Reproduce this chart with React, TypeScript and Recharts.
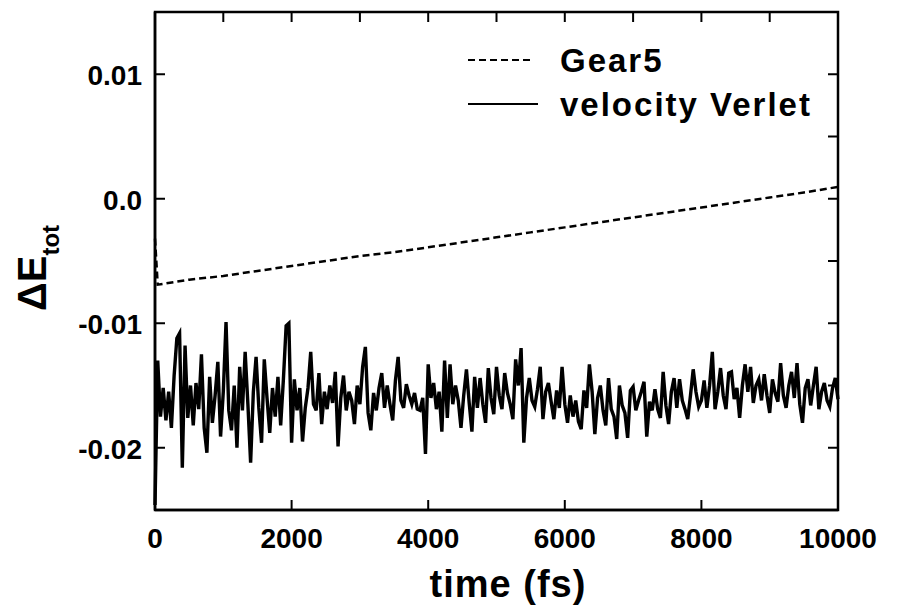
import { LineChart, Line, XAxis, YAxis, ReferenceArea } from 'recharts'

// ΔE_tot in units of 1e-3
const GEAR5_TIME = [0, 40, 500, 1000, 1500, 2000, 2500, 3000, 3500, 4000, 4500, 5000, 5500, 6000, 6500, 7000, 7500, 8000, 8500, 9000, 9500, 10000]
const GEAR5_DE = [-3.2, -6.9, -6.5, -6.2, -5.8, -5.4, -5.0, -4.6, -4.3, -3.9, -3.5, -3.1, -2.7, -2.3, -1.9, -1.5, -1.1, -0.7, -0.3, 0.1, 0.5, 0.95]

// velocity Verlet sampled every 40 fs
const VERLET_DT = 40
const VERLET_DE = [
  -24.6, -13.0, -17.5, -15.2, -17.8, -15.5, -18.4, -14.2, -11.2, -10.8, -21.6, -11.8, -17.6, -15.0, -18.2, -14.8, -16.9, -12.5, -18.4, -20.4, -14.3, -18.0, -15.8, -13.1, -19.1,
  -15.5, -9.9, -17.0, -18.6, -15.0, -20.0, -13.5, -17.0, -12.3, -16.5, -21.2, -15.5, -12.7, -16.8, -19.6, -12.9, -16.0, -18.8, -15.2, -17.5, -14.3, -18.2, -14.5, -10.2, -10.0,
  -19.6, -14.5, -17.0, -15.2, -19.5, -16.8, -15.2, -12.3, -16.5, -17.0, -14.0, -18.1, -15.5, -16.9, -15.0, -16.4, -13.9, -19.9, -16.0, -14.2, -17.0, -15.5, -16.2, -18.1, -15.0,
  -16.5, -13.5, -11.9, -17.2, -18.6, -15.6, -17.0, -15.2, -14.0, -16.8, -15.0, -16.5, -17.8, -14.6, -12.7, -16.2, -16.8, -14.9, -15.8, -16.5, -15.6, -16.9, -17.0, -16.0, -20.5,
  -13.3, -16.0, -14.8, -16.9, -15.5, -18.7, -13.0, -17.6, -13.3, -16.5, -15.0, -16.2, -18.4, -15.8, -13.7, -16.4, -18.7, -14.3, -16.8, -14.4, -16.5, -18.0, -13.6, -16.0, -17.3,
  -13.5, -15.8, -16.9, -14.0, -15.6, -16.5, -17.7, -12.9, -15.0, -12.0, -19.6, -16.0, -14.4, -16.2, -16.7, -15.3, -13.5, -17.7, -15.5, -14.8, -16.3, -17.7, -15.4, -16.8, -13.5,
  -16.5, -18.0, -15.8, -17.5, -16.2, -17.9, -18.5, -15.4, -16.8, -13.3, -15.5, -18.9, -16.0, -15.0, -17.0, -18.2, -14.4, -16.9, -17.5, -19.3, -15.0, -16.6, -17.2, -19.2, -15.4,
  -15.1, -17.0, -16.2, -15.5, -14.7, -19.1, -16.3, -17.0, -15.3, -16.9, -17.6, -13.9, -16.6, -18.1, -15.5, -14.4, -16.8, -14.5, -16.2, -16.9, -17.7, -15.8, -13.7, -15.5, -16.7,
  -16.2, -14.6, -16.8, -15.0, -12.3, -16.9, -15.5, -13.6, -15.8, -16.9, -14.0, -13.9, -16.1, -15.2, -17.6, -15.0, -13.3, -15.5, -13.5, -16.4, -15.0, -14.5, -16.2, -14.1, -15.8,
  -17.2, -14.5, -15.6, -16.3, -13.2, -15.8, -16.8, -15.0, -13.9, -16.0, -13.2, -16.5, -18.0, -15.2, -14.5, -16.6, -15.0, -13.5, -16.9, -15.5, -14.8, -16.2, -16.7, -15.2, -14.4, -16.1,
]

const X_TICKS = [0, 1000, 2000, 3000, 4000, 5000, 6000, 7000, 8000, 9000, 10000]
const Y_TICKS = [-0.025, -0.02, -0.015, -0.01, -0.005, 0, 0.005, 0.01, 0.015]
const SERIES = [
  { name: 'Gear5', dash: '7 4' },
  { name: 'velocity Verlet', dash: undefined },
]

const FONT = '"Liberation Sans", Arial, Helvetica, sans-serif'
const PLOT = { left: 155, top: 12, right: 838, bottom: 510 }
const TICK_LEN = 10

const gear5 = GEAR5_TIME.map((t, i) => ({ t, de: GEAR5_DE[i] / 1000 }))
const verlet = VERLET_DE.map((v, i) => ({ t: i * VERLET_DT, de: v / 1000 }))

function XTick(props: any) {
  const { x, y, payload } = props
  const v = payload.value as number
  const major = v % 2000 === 0
  return (
    <g>
      <line x1={x} x2={x} y1={PLOT.top} y2={PLOT.top + TICK_LEN} stroke="#000" strokeWidth={2} />
      {major && <line x1={x} x2={x} y1={y} y2={y - TICK_LEN} stroke="#000" strokeWidth={2} />}
      {major && (
        <text x={x} y={y + 38} textAnchor="middle" fontFamily={FONT} fontWeight="bold" fontSize={28} fill="#000">
          {v}
        </text>
      )}
    </g>
  )
}

function YTick(props: any) {
  const { x, y, payload } = props
  const v = payload.value as number
  const major = Math.round(v * 1000) % 10 === 0 && v > -0.025
  return (
    <g>
      <line x1={PLOT.right} x2={PLOT.right - TICK_LEN} y1={y} y2={y} stroke="#000" strokeWidth={2} />
      {major && <line x1={x} x2={x + TICK_LEN} y1={y} y2={y} stroke="#000" strokeWidth={2} />}
      {major && (
        <text x={x - 13} y={y + 11} textAnchor="end" fontFamily={FONT} fontWeight="bold" fontSize={28} fill="#000">
          {v === 0 ? '0.0' : v.toFixed(2)}
        </text>
      )}
    </g>
  )
}

const XTitle = () => (
  <text x={508} y={597} textAnchor="middle" fontFamily={FONT} fontWeight="bold" fontSize={38} letterSpacing={1} fill="#000">
    time (fs)
  </text>
)

const YTitle = () => (
  <text x={46} y={268} transform="rotate(-90, 46, 268)" textAnchor="middle" fontFamily={FONT} fontWeight="bold" fontSize={40} fill="#000">
    ΔE
    <tspan fontSize={24} dy={13}>tot</tspan>
  </text>
)

export default function App() {
  return (
    <div style={{ position: 'absolute', left: 0, top: 0, width: 899, height: 605, background: '#fff' }}>
      <LineChart width={899} height={605} margin={{ top: PLOT.top, right: 899 - PLOT.right, bottom: 0, left: 0 }}>
        <XAxis
          dataKey="t"
          type="number"
          domain={[0, 10000]}
          ticks={X_TICKS}
          interval={0}
          height={605 - PLOT.bottom}
          tickLine={false}
          tickSize={0}
          tickMargin={0}
          axisLine={{ stroke: '#000', strokeWidth: 2.5 }}
          tick={<XTick />}
          label={{ content: () => <XTitle /> }}
        />
        <YAxis
          type="number"
          domain={[-0.025, 0.015]}
          ticks={Y_TICKS}
          interval={0}
          width={PLOT.left}
          allowDataOverflow
          tickLine={false}
          tickSize={0}
          tickMargin={0}
          axisLine={{ stroke: '#000', strokeWidth: 2.5 }}
          tick={<YTick />}
          label={{ content: () => <YTitle /> }}
        />
        <ReferenceArea x1={0} x2={10000} y1={-0.025} y2={0.015} fill="none" stroke="#000" strokeWidth={2.5} fillOpacity={0} />
        <Line
          data={gear5}
          dataKey="de"
          name={SERIES[0].name}
          type="linear"
          stroke="#000"
          strokeWidth={2.5}
          strokeDasharray={SERIES[0].dash}
          dot={false}
          isAnimationActive={false}
        />
        <Line
          data={verlet}
          dataKey="de"
          name={SERIES[1].name}
          type="linear"
          stroke="#000"
          strokeWidth={3.4}
          strokeLinejoin="miter"
          dot={false}
          isAnimationActive={false}
        />
      </LineChart>
      <svg width={899} height={605} style={{ position: 'absolute', left: 0, top: 0, pointerEvents: 'none' }}>
        {SERIES.map((s, i) => (
          <g key={s.name}>
            <line x1={468} x2={i === 0 ? 532 : 538} y1={60 + i * 44} y2={60 + i * 44} stroke="#000" strokeWidth={2} strokeDasharray={s.dash} />
            <text x={560} y={72 + i * 44} fontFamily={FONT} fontWeight="bold" fontSize={33} letterSpacing={2} fill="#000">
              {s.name}
            </text>
          </g>
        ))}
      </svg>
    </div>
  )
}
